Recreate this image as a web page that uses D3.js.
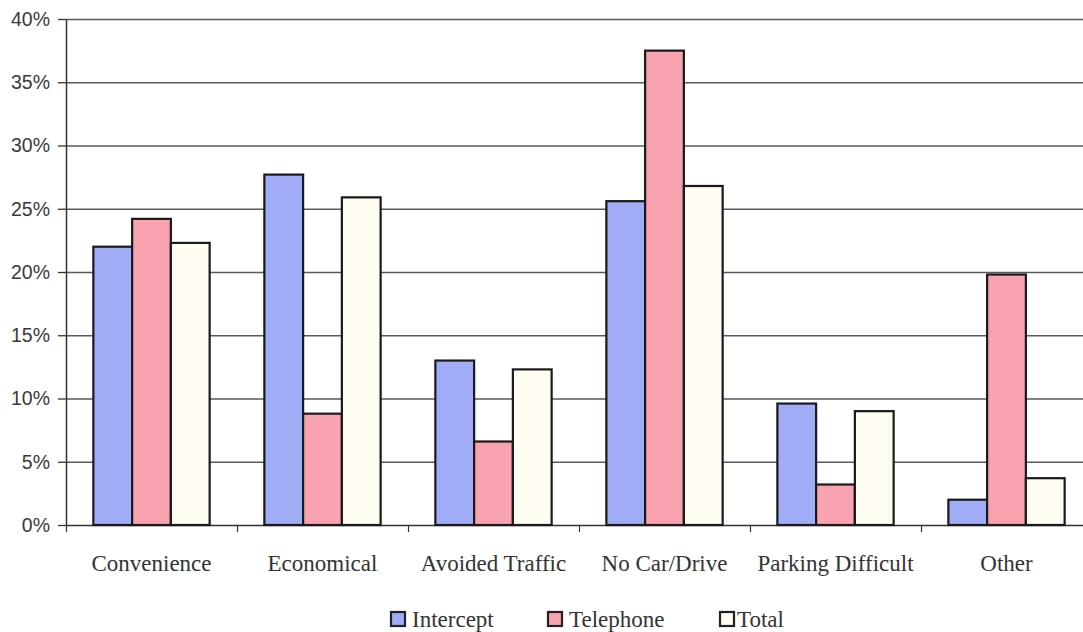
<!DOCTYPE html>
<html>
<head>
<meta charset="utf-8">
<script src="https://cdn.jsdelivr.net/npm/d3@7"></script>
<style>
  html, body { margin: 0; padding: 0; background: #fff; }
  svg { display: block; }
</style>
</head>
<body>
<svg id="chart" width="1083" height="632"></svg>
<script>
// Reasons for choosing transit, by survey method
const categories = ["Convenience", "Economical", "Avoided Traffic", "No Car/Drive", "Parking Difficult", "Other"];
const seriesNames = ["Intercept", "Telephone", "Total"];
const intercept = [22.0, 27.7, 13.0, 25.6, 9.6, 2.0];
const telephone = [24.2, 8.8, 6.6, 37.5, 3.2, 19.8];
const total = [22.3, 25.9, 12.3, 26.8, 9.0, 3.7];
const yTicks = [0, 5, 10, 15, 20, 25, 30, 35, 40];

const colors = { Intercept: "#a0acf6", Telephone: "#f9a2b0", Total: "#fffdf2" };
const seriesValues = { Intercept: intercept, Telephone: telephone, Total: total };

const serifFont = "'Liberation Serif', 'Times New Roman', serif";

const svg = d3.select("#chart");
const margin = { left: 66, top: 19, right: -9, bottom: 107 };
const W = 1083, H = 632;
const innerW = W - margin.left - margin.right;
const innerH = H - margin.top - margin.bottom;

const g = svg.append("g").attr("transform", `translate(${margin.left},${margin.top})`);

const x0 = d3.scaleBand().domain(categories).range([0, innerW]).paddingInner(0.32).paddingOuter(0.16);
const x1 = d3.scaleBand().domain(seriesNames).range([0, x0.bandwidth()]);
const y = d3.scaleLinear().domain([0, 40]).range([innerH, 0]);

// horizontal gridlines
g.append("g")
  .selectAll("line")
  .data(yTicks.filter(t => t > 0))
  .join("line")
  .attr("x1", 0).attr("x2", innerW)
  .attr("y1", d => y(d) + 0.5).attr("y2", d => y(d) + 0.5)
  .attr("stroke", "#5a5a5a").attr("stroke-width", 1.3);

// y axis
const yAxis = g.append("g")
  .call(d3.axisLeft(y).tickValues(yTicks).tickFormat(d => d + "%").tickSize(8).tickSizeOuter(0));
yAxis.select(".domain").attr("stroke", "#333").attr("stroke-width", 1.5);
yAxis.selectAll(".tick line").attr("stroke", "#333").attr("stroke-width", 1.3);
yAxis.selectAll(".tick text")
  .attr("x", -16)
  .attr("fill", "#3a3a3a")
  .style("font-family", "'Liberation Sans', Arial, sans-serif")
  .style("font-size", "19.5px");

// x axis with ticks between categories
const step = x0.step();
const bandStart = x0(categories[0]) - x0.paddingOuter() * step;
const xAxis = g.append("g").attr("transform", `translate(0,${innerH})`);
xAxis.append("line")
  .attr("x1", 0).attr("x2", innerW)
  .attr("y1", 0.5).attr("y2", 0.5)
  .attr("stroke", "#333").attr("stroke-width", 1.5);
xAxis.selectAll("line.sep")
  .data(d3.range(categories.length + 1))
  .join("line")
  .attr("class", "sep")
  .attr("x1", i => bandStart + i * step + 0.5)
  .attr("x2", i => bandStart + i * step + 0.5)
  .attr("y1", 0).attr("y2", 7)
  .attr("stroke", "#333").attr("stroke-width", 1.2);
xAxis.selectAll("text")
  .data(categories)
  .join("text")
  .attr("x", d => x0(d) + x0.bandwidth() / 2)
  .attr("y", 46)
  .attr("text-anchor", "middle")
  .attr("fill", "#333")
  .style("font-family", serifFont)
  .style("font-size", "23px")
  .text(d => d);

// bars
const groups = g.append("g")
  .selectAll("g")
  .data(categories)
  .join("g")
  .attr("transform", d => `translate(${x0(d)},0)`);

groups.selectAll("rect")
  .data((d, i) => seriesNames.map(s => ({ s, v: seriesValues[s][i] })))
  .join("rect")
  .attr("x", d => x1(d.s))
  .attr("y", d => y(d.v))
  .attr("width", x1.bandwidth())
  .attr("height", d => innerH - y(d.v))
  .attr("fill", d => colors[d.s])
  .attr("stroke", "#1a1a1a")
  .attr("stroke-width", 2.2);

// legend
const legendItems = [
  { s: "Intercept", x: 391, tx: 21 },
  { s: "Telephone", x: 548, tx: 21 },
  { s: "Total", x: 720, tx: 17 }
];
const legend = svg.append("g");
const li = legend.selectAll("g").data(legendItems).join("g")
  .attr("transform", d => `translate(${d.x},612)`);
li.append("rect")
  .attr("width", 14).attr("height", 14)
  .attr("fill", d => colors[d.s])
  .attr("stroke", "#222").attr("stroke-width", 2.2);
li.append("text")
  .attr("x", d => d.tx).attr("y", 15)
  .attr("fill", "#333")
  .style("font-family", serifFont)
  .style("font-size", "23px")
  .text(d => d.s);
</script>
</body>
</html>
